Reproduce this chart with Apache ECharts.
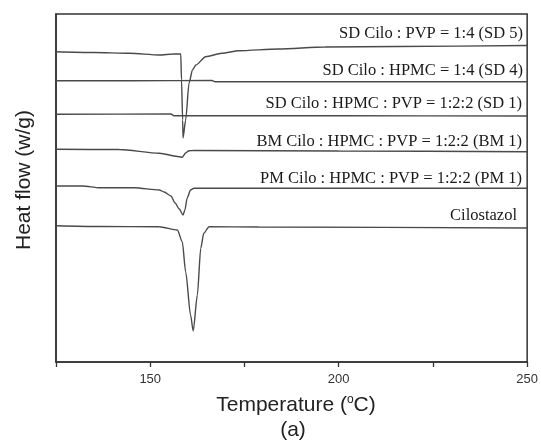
<!DOCTYPE html>
<html>
<head>
<meta charset="utf-8">
<script src="https://cdn.jsdelivr.net/npm/echarts@6/dist/echarts.min.js"></script>
<style>
html, body { margin: 0; padding: 0; background: #fff; }
#chart { width: 541px; height: 441px; }
</style>
</head>
<body>
<div id="chart"></div>
<script>
// temperature (°C) / heat flow (arbitrary, curves offset vertically)
var sd5 = [[125, 310.3], [135, 309.5], [144.5, 308.7], [152.4, 307], [156.3, 308], [158.1, 308],
    [158.3, 282], [158.6, 242], [158.7, 224], [159.4, 242], [160.3, 279], [161.2, 292],
    [162.1, 297], [164.7, 305.3], [169, 308.7], [173.5, 311.3], [184, 313], [196.4, 315],
    [215.7, 315.5], [250, 316.5]];
var sd4 = [[125, 281.3], [145, 281.3], [166.4, 281.5], [167.2, 280.3], [200, 280.3], [250, 280.3]];
var sd1 = [[125, 247.7], [155.5, 248], [156.3, 246.3], [200, 246.2], [250, 246]];
var bm1 = [[125, 212.7], [141.8, 212.5], [152.4, 208.7], [157.7, 205.3], [158.5, 204.7],
    [159.4, 209], [160.3, 211.3], [161.6, 211.5], [200, 211], [250, 210.3]];
var pm1 = [[125, 176], [132.1, 176], [136.5, 174.3], [145.8, 174.3], [152.4, 172], [153.7, 170],
    [155.5, 166], [156.6, 159], [157.7, 153], [158.7, 147], [159.2, 152], [159.8, 164],
    [160.7, 172], [161.6, 173.7], [200, 173.7], [250, 173.7]];
var cilo = [[125, 136.3], [136.5, 135.5], [152.4, 135.3], [157.2, 132], [158.5, 120.3],
    [159.4, 90.3], [160.7, 47], [161.4, 31], [162.5, 67], [163.4, 113.7], [164.2, 128.7],
    [165.6, 135.3], [178.8, 135], [250, 134]];

var seriesNames = ['SD Cilo : PVP = 1:4 (SD 5)', 'SD Cilo : HPMC = 1:4 (SD 4)',
    'SD Cilo : HPMC : PVP = 1:2:2 (SD 1)', 'BM Cilo : HPMC : PVP = 1:2:2 (BM 1)',
    'PM Cilo : HPMC : PVP = 1:2:2 (PM 1)', 'Cilostazol'];
var seriesData = [sd5, sd4, sd1, bm1, pm1, cilo];
var labelY = [34, 71, 104, 142, 179, 216];
var labelX = [523, 523, 522, 522, 522, 517];

var myChart = echarts.init(document.getElementById('chart'));

var series = [];
var graphics = [];
for (var i = 0; i < seriesData.length; i++) {
    series.push({
        name: seriesNames[i],
        type: 'line',
        data: seriesData[i],
        showSymbol: false,
        smooth: 0.25,
        smoothMonotone: 'x',
        lineStyle: { color: '#4a4a4a', width: 1.4 }
    });
    graphics.push({
        type: 'text',
        x: labelX[i],
        y: labelY[i],
        style: {
            text: seriesNames[i],
            align: 'right',
            verticalAlign: 'middle',
            font: '16.5px "Liberation Serif"',
            fill: '#1a1a1a'
        }
    });
}

graphics.push({
    type: 'text',
    x: 24,
    y: 180,
    rotation: Math.PI / 2,
    style: {
        text: 'Heat flow (w/g)',
        align: 'center',
        verticalAlign: 'middle',
        font: '21px "Liberation Sans"',
        fill: '#222'
    }
});
graphics.push({
    type: 'text',
    x: 296,
    y: 405,
    style: {
        text: 'Temperature ({s|o}C)',
        align: 'center',
        verticalAlign: 'middle',
        font: '21px "Liberation Sans"',
        fill: '#222',
        rich: {
            s: { fontSize: 12, fontFamily: 'Liberation Sans', verticalAlign: 'top', padding: [0, 0, 10, 0], fill: '#222' }
        }
    }
});
graphics.push({
    type: 'text',
    x: 293,
    y: 430,
    style: {
        text: '(a)',
        align: 'center',
        verticalAlign: 'middle',
        font: '21px "Liberation Sans"',
        fill: '#222'
    }
});

var option = {
    backgroundColor: '#fff',
    animation: false,
    grid: {
        left: 56, top: 14, right: 11, bottom: 79,
        show: true, borderColor: '#333', borderWidth: 1.5
    },
    xAxis: {
        type: 'value',
        min: 125,
        max: 250,
        interval: 25,
        axisLine: { show: true, lineStyle: { color: '#333', width: 1.5 } },
        axisTick: { show: true, inside: false, length: 5, lineStyle: { color: '#333', width: 1.3 } },
        splitLine: { show: false },
        axisLabel: {
            color: '#333',
            fontFamily: 'Liberation Sans',
            fontSize: 13,
            margin: 11,
            formatter: function (v) { return v % 50 === 0 ? String(v) : ''; }
        }
    },
    yAxis: {
        type: 'value',
        min: 0,
        max: 348,
        axisLine: { show: true, lineStyle: { color: '#333', width: 1.5 } },
        axisTick: { show: false },
        axisLabel: { show: false },
        splitLine: { show: false }
    },
    graphic: graphics,
    series: series
};
myChart.setOption(option);
</script>
</body>
</html>
